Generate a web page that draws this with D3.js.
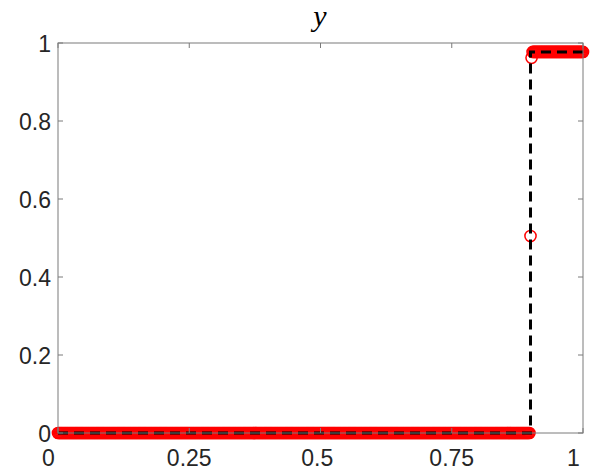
<!DOCTYPE html>
<html><head><meta charset="utf-8">
<script src="https://cdn.jsdelivr.net/npm/d3@7"></script>
<style>
html,body{margin:0;padding:0;background:#fff;}
svg text{white-space:pre;}
</style></head>
<body><svg id="c" width="598" height="472"></svg>
<script>
// ---- data ----
const xTicks = [0, 0.25, 0.5, 0.75, 1];
const xTickLabels = ["0   ", "0.25", "0.5 ", "0.75", "1   "];
const yTicks = [0, 0.2, 0.4, 0.6, 0.8, 1];
const yTickLabels = ["0", "0.2", "0.4", "0.6", "0.8", "1"];
// numerical solution (red circles) on the mesh
const meshStep = 0.002;
const lowLevel = 0;                 // value left of the jump
const jumpX = 0.9;                  // location of the jump
const jumpValues = [0.505, 0.962];  // the two transition points (at and right after the jump)
const highLevel = 0.977;            // value right of the jump
// exact solution (dashed line)
const exactX = [0, 0.9, 0.9, 1];
const exactY = [0, 0, 0.977, 0.977];

// build numerical points
const mesh = d3.range(0, 1 + 1e-9, meshStep);
const numPts = [];
let k = 0;
mesh.forEach(x => {
  let y;
  if (x < jumpX - 1e-9) y = lowLevel;
  else if (k < jumpValues.length) { y = jumpValues[k]; k++; }
  else y = highLevel;
  numPts.push([x, y]);
});

const svg = d3.select("#c");
const L = 58, R = 583, T = 43, B = 433;
const x = d3.scaleLinear().domain([0, 1]).range([L, R]);
const y = d3.scaleLinear().domain([0, 1]).range([B, T]);
const axisCol = "#262626";

svg.append("rect").attr("x", 0).attr("y", 0).attr("width", 598).attr("height", 472).attr("fill", "#fff");

const g = svg.append("g");

// numerical solution markers
g.selectAll("circle.n").data(numPts).enter().append("circle")
  .attr("class", "n")
  .attr("cx", d => x(d[0]))
  .attr("cy", d => y(d[1]))
  .attr("r", 5.6)
  .attr("fill", "none")
  .attr("stroke", "#ff0000")
  .attr("stroke-width", 1.5);

// exact solution dashed
const line = d3.line().x(d => x(d[0])).y(d => y(d[1]));
g.append("path")
  .datum(exactX.map((v, i) => [v, exactY[i]]))
  .attr("d", line)
  .attr("fill", "none")
  .attr("stroke", "#000")
  .attr("stroke-width", 3)
  .attr("stroke-dasharray", "10,6");

// axes box
svg.append("rect").attr("x", L).attr("y", T).attr("width", R - L).attr("height", B - T)
  .attr("fill", "none").attr("stroke", "#7a7a7a").attr("stroke-width", 1);

const tickLen = 5;
const ax = svg.append("g").attr("stroke", "#7a7a7a").attr("stroke-width", 1);
xTicks.forEach(v => {
  ax.append("line").attr("x1", x(v)).attr("x2", x(v)).attr("y1", B).attr("y2", B - tickLen);
  ax.append("line").attr("x1", x(v)).attr("x2", x(v)).attr("y1", T).attr("y2", T + tickLen);
});
yTicks.forEach(v => {
  ax.append("line").attr("x1", L).attr("x2", L + tickLen).attr("y1", y(v)).attr("y2", y(v));
  ax.append("line").attr("x1", R).attr("x2", R - tickLen).attr("y1", y(v)).attr("y2", y(v));
});

const font = "'Liberation Sans', Arial, sans-serif";
svg.append("g").selectAll("text").data(xTicks).enter().append("text")
  .attr("x", d => x(d)).attr("y", 466)
  .attr("text-anchor", "middle")
  .attr("font-family", font).attr("font-size", 23).attr("fill", axisCol)
  .text((d, i) => xTickLabels[i]);

svg.append("g").selectAll("text").data(yTicks).enter().append("text")
  .attr("x", 51).attr("y", d => y(d) + 9)
  .attr("text-anchor", "end")
  .attr("font-family", font).attr("font-size", 23).attr("fill", axisCol)
  .text((d, i) => yTickLabels[i]);

svg.append("text").attr("x", 320).attr("y", 26)
  .attr("text-anchor", "middle")
  .attr("font-family", "'Liberation Serif', 'DejaVu Serif', serif")
  .attr("font-style", "italic").attr("font-size", 30).attr("fill", "#000")
  .text("y");
</script></body></html>
